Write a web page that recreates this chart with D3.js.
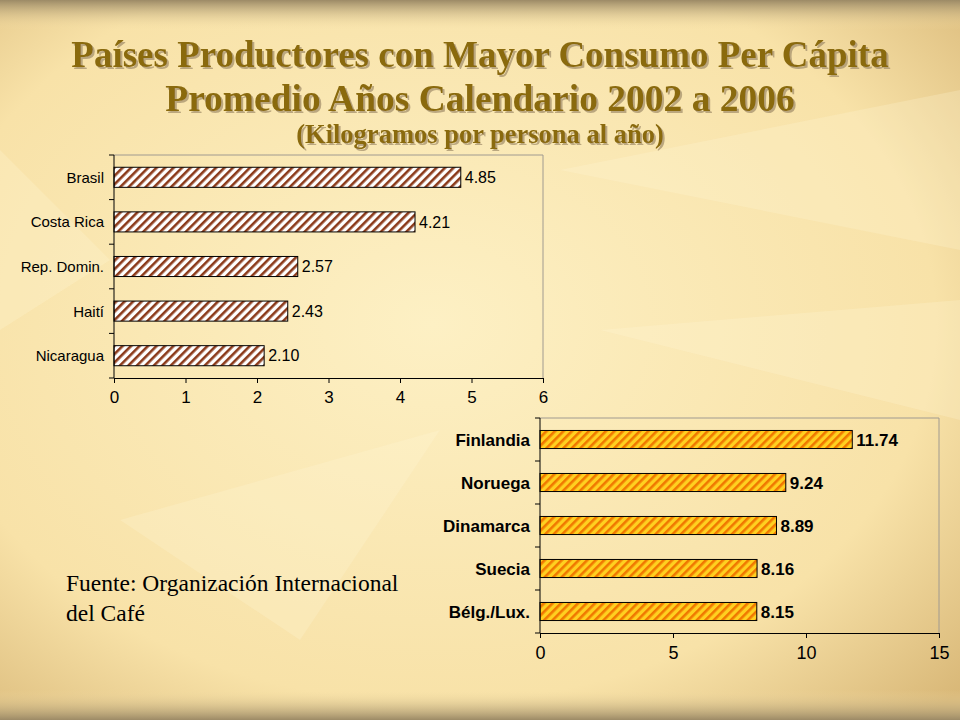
<!DOCTYPE html>
<html><head><meta charset="utf-8">
<script src="https://cdn.jsdelivr.net/npm/d3@7"></script>
<style>body{margin:0;}svg{display:block;}</style>
</head><body>
<svg id="vis" width="960" height="720"></svg>
<script>
var paisesA = ["Brasil", "Costa Rica", "Rep. Domin.", "Haití", "Nicaragua"];
var valoresA = [4.85, 4.21, 2.57, 2.43, 2.10];
var ticksA = [0, 1, 2, 3, 4, 5, 6];
var paisesB = ["Finlandia", "Noruega", "Dinamarca", "Suecia", "Bélg./Lux."];
var valoresB = [11.74, 9.24, 8.89, 8.16, 8.15];
var ticksB = [0, 5, 10, 15];

var svg = d3.select("#vis");
var defs = svg.append("defs");

// background
var bg = defs.append("radialGradient").attr("id", "bg").attr("cx", "45%").attr("cy", "45%").attr("r", "75%");
bg.append("stop").attr("offset", "0%").attr("stop-color", "#fdf0c4");
bg.append("stop").attr("offset", "70%").attr("stop-color", "#f8e2a8");
bg.append("stop").attr("offset", "100%").attr("stop-color", "#d9b878");
svg.append("rect").attr("width", 960).attr("height", 720).attr("fill", "url(#bg)");
var topGrad = defs.append("linearGradient").attr("id", "topband").attr("x1", 0).attr("y1", 0).attr("x2", 0).attr("y2", 1);
topGrad.append("stop").attr("offset", "0%").attr("stop-color", "#9c8a66");
topGrad.append("stop").attr("offset", "100%").attr("stop-color", "#f6dfa6").attr("stop-opacity", 0);
svg.append("rect").attr("width", 960).attr("height", 30).attr("fill", "url(#topband)");
var botGrad = defs.append("linearGradient").attr("id", "botband").attr("x1", 0).attr("y1", 1).attr("x2", 0).attr("y2", 0);
botGrad.append("stop").attr("offset", "0%").attr("stop-color", "#9c8a66");
botGrad.append("stop").attr("offset", "100%").attr("stop-color", "#f6dfa6").attr("stop-opacity", 0);
svg.append("rect").attr("y", 690).attr("width", 960).attr("height", 30).attr("fill", "url(#botband)");
// faint leaf shapes
var leaves = ["M560,170 L960,90 L960,250 Z", "M600,330 L960,300 L960,420 Z", "M120,520 L440,430 L300,640 Z", "M0,150 L110,260 L0,330 Z"];
svg.selectAll(".leaf").data(leaves).enter().append("path")
  .attr("d", function (d) { return d; }).attr("fill", "#fff6d8").attr("opacity", 0.25);

// hatch patterns
function hatch(id, fg, bgc, w) {
  var p = defs.append("pattern").attr("id", id).attr("patternUnits", "userSpaceOnUse")
    .attr("width", 6).attr("height", 6).attr("patternTransform", "rotate(45)");
  p.append("rect").attr("width", 6).attr("height", 6).attr("fill", bgc);
  p.append("rect").attr("width", w).attr("height", 6).attr("fill", fg);
}
hatch("hA", "#8b3a1a", "#ffffff", 2.6);
hatch("hB", "#f07800", "#ffd020", 2.6);

// title
var sh = defs.append("filter").attr("id", "shadow");
sh.append("feDropShadow").attr("dx", 2).attr("dy", 2).attr("stdDeviation", 0.6)
  .attr("flood-color", "#a08c68").attr("flood-opacity", 0.7);
var title = svg.append("g").attr("font-family", "Liberation Serif, Times New Roman, serif")
  .attr("font-weight", "bold").attr("text-anchor", "middle").attr("fill", "#8a6a10").attr("filter", "url(#shadow)");
[[480, 67, 37, "Países Productores con Mayor Consumo Per Cápita"],
 [480, 111, 37.5, "Promedio Años Calendario 2002 a 2006"],
 [480, 143, 26.5, "(Kilogramos por persona al año)"]].forEach(function (t) {
  title.append("text").attr("x", t[0]).attr("y", t[1]).attr("font-size", t[2]).text(t[3]);
});

function drawChart(cfg) {
  var g = svg.append("g").attr("font-family", "Liberation Sans, Arial, sans-serif");
  var x = d3.scaleLinear().domain([0, cfg.max]).range([cfg.x0, cfg.x1]);
  var y = d3.scaleBand().domain(cfg.cats).range([cfg.y0, cfg.y1]).paddingInner(cfg.pad).paddingOuter(cfg.pad / 2);
  // frame (top and right)
  g.append("path").attr("d", "M" + cfg.x0 + "," + cfg.y0 + "H" + cfg.x1 + "V" + cfg.y1)
    .attr("fill", "none").attr("stroke", "#a09a90").attr("stroke-width", 1);
  g.selectAll(".bar").data(cfg.vals).enter().append("rect")
    .attr("x", x(0)).attr("y", function (d, i) { return y(cfg.cats[i]); })
    .attr("width", function (d) { return x(d) - x(0); }).attr("height", y.bandwidth())
    .attr("fill", cfg.fill).attr("stroke", "#000").attr("stroke-width", 1);
  g.selectAll(".val").data(cfg.vals).enter().append("text")
    .attr("x", function (d) { return x(d) + 4; })
    .attr("y", function (d, i) { return y(cfg.cats[i]) + y.bandwidth() / 2; })
    .attr("dy", "0.36em").attr("font-size", cfg.bold ? 17 : 16).attr("font-weight", cfg.bold ? "bold" : "normal")
    .text(function (d) { return d.toFixed(2); });
  var xa = g.append("g").attr("transform", "translate(0," + cfg.y1 + ")")
    .call(d3.axisBottom(x).tickValues(cfg.ticks).tickFormat(d3.format("d")).tickSize(5).tickSizeOuter(0).tickPadding(8));
  xa.select(".domain").attr("stroke", "#000");
  xa.selectAll("text").attr("font-size", cfg.bold ? 18 : 17).attr("fill", "#000").attr("font-family", "Liberation Sans, Arial, sans-serif");
  // y axis with ticks between categories
  var yb = [];
  for (var i = 0; i <= cfg.cats.length; i++) yb.push(cfg.y0 + i * (cfg.y1 - cfg.y0) / cfg.cats.length);
  g.append("line").attr("x1", cfg.x0).attr("x2", cfg.x0).attr("y1", cfg.y0).attr("y2", cfg.y1).attr("stroke", "#000");
  g.selectAll(".yt").data(yb).enter().append("line")
    .attr("x1", cfg.x0 - 5).attr("x2", cfg.x0).attr("y1", function (d) { return d; }).attr("y2", function (d) { return d; }).attr("stroke", "#000");
  g.selectAll(".cat").data(cfg.cats).enter().append("text")
    .attr("x", cfg.x0 - 10).attr("y", function (d) { return y(d) + y.bandwidth() / 2; })
    .attr("dy", "0.36em").attr("text-anchor", "end").attr("font-size", cfg.bold ? 17 : 15)
    .attr("font-weight", cfg.bold ? "bold" : "normal").text(function (d) { return d; });
}

drawChart({ cats: paisesA, vals: valoresA, ticks: ticksA, max: 6, x0: 114, x1: 543, y0: 155, y1: 378, pad: 0.55, fill: "url(#hA)", bold: false });
drawChart({ cats: paisesB, vals: valoresB, ticks: ticksB, max: 15, x0: 540, x1: 939, y0: 418, y1: 633, pad: 0.58, fill: "url(#hB)", bold: true });

svg.append("text").attr("x", 66).attr("y", 591).attr("font-family", "Liberation Serif, Times New Roman, serif")
  .attr("font-size", 23.5).text("Fuente: Organización Internacional");
svg.append("text").attr("x", 66).attr("y", 621).attr("font-family", "Liberation Serif, Times New Roman, serif")
  .attr("font-size", 23.5).text("del Café");
</script>
</body></html>
